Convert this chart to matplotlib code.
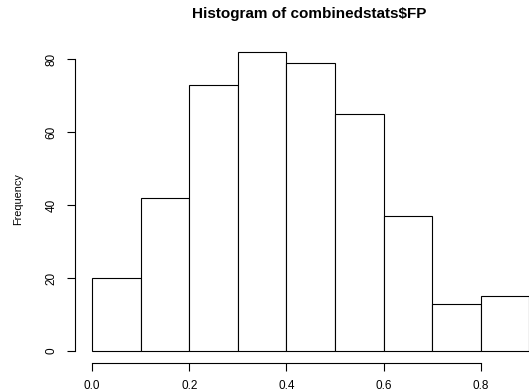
import numpy as np
import matplotlib.pyplot as plt

plt.rcParams['font.family'] = ['Liberation Sans', 'DejaVu Sans']

# histogram bins of combinedstats$FP and their counts
bin_edges = [0.0, 0.1, 0.2, 0.3, 0.4, 0.5, 0.6, 0.7, 0.8, 0.9]
counts = [20, 42, 73, 82, 79, 65, 37, 13, 15]
x_ticks = [0.0, 0.2, 0.4, 0.6, 0.8]
y_ticks = [0, 20, 40, 60, 80]

W, H, DPI = 529, 392, 100
fig = plt.figure(figsize=(W / DPI, H / DPI), dpi=DPI)
fig.patch.set_facecolor('white')

# R-like plot region (extends a bit past the right edge)
left, right, bottom, top = 74.5, 547, 363, 40
ax = fig.add_axes([left / W, 1 - bottom / H, (right - left) / W, (bottom - top) / H])

edges = np.array(bin_edges)
ax.bar(edges[:-1], counts, width=np.diff(edges), align='edge',
       facecolor='white', edgecolor='black', linewidth=0.8)

ax.set_xlim(-0.036, 0.936)
ax.set_ylim(-3.28, 85.28)

for s in ['top', 'right']:
    ax.spines[s].set_visible(False)
ax.spines['left'].set_bounds(0, 80)
ax.spines['bottom'].set_bounds(0, 0.8)
for s in ['left', 'bottom']:
    ax.spines[s].set_linewidth(0.8)

ax.set_xticks(x_ticks)
ax.set_xticklabels(['%.1f' % v for v in x_ticks])
ax.set_yticks(y_ticks)
ax.set_yticklabels([str(v) for v in y_ticks], rotation=90, va='center')
ax.tick_params(axis='both', length=6, width=0.8, labelsize=8.5, pad=6)

fig.text(18 / W, 1 - 199 / H, 'Frequency', rotation=90, ha='center', va='center', fontsize=7.8)
fig.text(309 / W, 1 - 14 / H, 'Histogram of combinedstats$FP', ha='center', va='center',
         fontsize=11, fontweight='bold')

fig.savefig('out.png', dpi=DPI)
